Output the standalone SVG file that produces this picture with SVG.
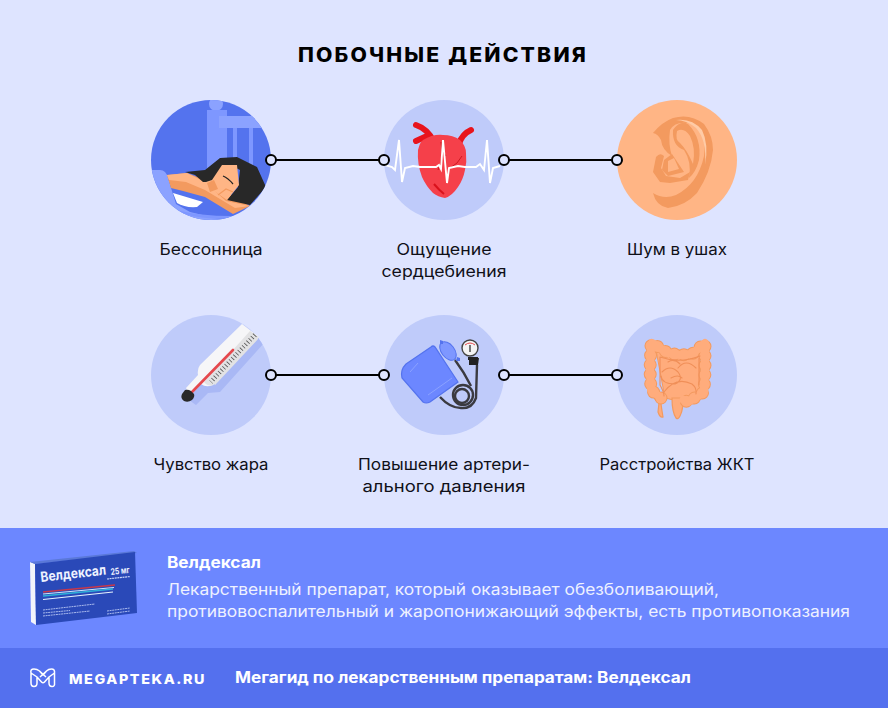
<svg xmlns="http://www.w3.org/2000/svg" width="888" height="708" viewBox="0 0 888 708">
<style>
text{font-family:"Inter","Liberation Sans",sans-serif;}
.lb{font-size:15.5px;fill:#101018;text-anchor:middle}
.disc{fill:#BFCBFA}
.ln{stroke:#000;stroke-width:2;fill:none}
.dot{fill:#DEE4FF;stroke:#000;stroke-width:2}
.g{fill:none;stroke:#F08F58;stroke-width:1.1;stroke-linecap:round}
.w{font-size:15.5px;fill:#EEF1FF}
.tube{fill:none;stroke:#3A3A40;stroke-width:2.4}
</style>
<defs><clipPath id="c1"><circle cx="211" cy="160" r="60"/></clipPath><clipPath id="c4"><circle cx="211" cy="375" r="60"/></clipPath></defs>
<rect width="888" height="708" fill="#DEE4FF"/>
<text x="443" y="62" text-anchor="middle" font-size="19.500" font-weight="800" letter-spacing="2" fill="#000" textLength="290" lengthAdjust="spacingAndGlyphs">ПОБОЧНЫЕ ДЕЙСТВИЯ</text>

<g id="connectors">
<path class="ln" d="M271 160H384M504 160H617M271 375H384M504 375H617"/>
</g>

<g id="node-insomnia">
<circle cx="211" cy="160" r="60" fill="#5473EE"/>
<g clip-path="url(#c1)">
<circle cx="216" cy="104" r="7" fill="#8BA2FF"/>
<rect x="207" y="110" width="20" height="70" fill="#7E97FF"/>
<rect x="219" y="116" width="50" height="12" fill="#8BA2FF"/>
<rect x="233" y="128" width="4" height="40" fill="#7E97FF"/>
<rect x="249" y="128" width="4" height="40" fill="#7E97FF"/>
<path d="M150 170H160Q166 170 168 178L176 204 190 212 232 222H150Z" fill="#8BA2FF"/>
<path d="M176 210Q200 216 232 216L228 219Q200 219 180 213Z" fill="#7E97FF"/>
<path d="M173 193L203 202 197 207Q185 208 177 203Z" fill="#fff"/>
<path d="M167 175L187 173 205 180 250 206 233 214 205 197 183 191 171 188Z" fill="#F39A5F"/>
<path d="M167 175L187 173 207 183 217 193 226 201 250 206 235 208 205 190 186 182 169 180Z" fill="#FFB585"/>
<path d="M185 172L205 170 220 158 237 157 257 167 266 187 250 205 227 200 238 187 240 170 230 165 222 170 212 182 203 182 195 175Z" fill="#282828"/>
<path d="M222 165L237 165 239 185 227 200 217 193 203 183 212 180 220 168Z" fill="#FFB585"/>
<path d="M207 183L214 180 218 189 210 192Z" fill="#F39A5F"/>
<path d="M223 176Q228 178 233 184" stroke="#222" stroke-width="1.2" fill="none"/>
<path d="M218 195L226 189 233 192" stroke="#F39A5F" stroke-width="1.2" fill="none"/>
</g>
</g>

<g id="node-heart">
<circle class="disc" cx="444" cy="160" r="60"/>
<path d="M416 125Q428 129 434 142M416 141L427 136M459 144Q462 134 471 130" fill="none" stroke="#E8141C" stroke-width="6" stroke-linecap="round"/>
<path d="M418 150Q420 142 423 140 433 134 443 135 453 135 460 140 466 146 466 153 467 162 465 170 463 180 458 187 452 196 445 198 438 197 433 193 426 186 422 177 417 164 418 150Z" fill="#F5404A"/>
<path d="M434 184Q439 190 444 194" stroke="#D9121C" stroke-width="2" fill="none"/>
<path d="M441 142Q444 158 438 170M442 150L446 156M462 156Q458 164 450 168" stroke="#C8141C" stroke-width=".9" fill="none"/>
<path d="M385 165L392 167 395 170 399 140 402 182 405 168 413 166 420 167H436L439 165 441 169 443 140 447 183 449 168 458 166 465 167H476L480 164 484 170 487 140 490 183 493 168 500 166" fill="none" stroke="#fff" stroke-width="1.9"/>
</g>

<g id="node-tinnitus">
<circle cx="677" cy="160" r="60" fill="#FFB585"/>
<path d="M653 133Q662 122 673 118 690 113 704 124 713 136 713 150 711 172 697 193 685 206 668 208 656 206 653 193 664 200 676 195 698 184 704 156 707 134 692 124 676 120 670 130 668 144 672 156 662 150 661 140 658 134 653 133Z" fill="#F39A5F"/>
<path d="M676 120Q692 118 702 130 709 144 705 165 707 140 696 128 686 120 676 120Z" fill="#FFCBA6"/>
<path d="M673 130Q680 120 688 124 702 138 699 160 696 172 689 178 692 162 684 150 672 146 673 130Z" fill="#F39A5F"/>
<path d="M677 131Q684 127 690 136 696 148 693 164 687 150 680 143 675 140 677 131Z" fill="#FFB585"/>
<path d="M656 157Q660 152 664 156L661 168 666 176 680 178 690 172 688 180 670 183 660 182 653 172Z" fill="#F39A5F"/>
<path d="M664 160L672 154 684 172 668 176 662 170Z" fill="#F39A5F"/>
<path d="M668 161L674 158 679 169 668 172Z" fill="#FFB585"/>
</g>

<g id="node-heat">
<circle class="disc" cx="211" cy="375" r="60"/>
<g clip-path="url(#c4)">
<path d="M186 398L196 405 208 393 220 392 264 343 259 337 200 385Z" fill="#A9B8F5"/>
</g>
<path d="M186 388L198 375Q197 369 200 365L242 324 259 337 213 385Q206 388 201 384L190 396Z" fill="#F6F6F8"/>
<path d="M250 331L259 337 213 385Q208 387 204 382Z" fill="#E2E2E4"/>
<path d="M255 335L211 382" stroke="#555" stroke-width="5" stroke-dasharray=".8 2.4" fill="none"/>
<path d="M257 338L214 384" stroke="#E2E2E4" stroke-width="3" fill="none"/>
<path d="M192 392L233 350" stroke="#E5484D" stroke-width="2.6" stroke-linecap="round" fill="none"/>
<path d="M185 390Q188 389 191 391L194 394Q195 397 192 400 188 403 184 401 180 398 182 394Z" fill="#282828"/>
</g>

<g id="node-pressure">
<circle class="disc" cx="444" cy="375" r="60"/>
<path class="tube" d="M440 397Q450 408 461 408 472 409 476 398L477 365M455 360Q464 372 471 386"/>
<circle class="tube" cx="463" cy="395" r="10"/>
<circle class="tube" cx="462" cy="396" r="7"/>
<rect x="468" y="357" width="10" height="3" fill="#222"/>
<path d="M469 359L479 358 478 365 469 365Z" fill="#222"/>
<circle cx="470" cy="348" r="8" fill="#F4F4F4" stroke="#444" stroke-width="1.4"/>
<path d="M465 345Q470 341 475 345" stroke="#E5484D" fill="none"/>
<path d="M470 352V345" stroke="#222" stroke-width="1.2"/>
<path d="M406 364L431 347Q433 345 435 347L458 382 430 402Q426 404 423 402L402 378Q400 370 406 364Z" fill="#6C87FF" stroke="#5473EE" stroke-width="1.2"/>
<path d="M418 363L410 372M452 378L428 395" stroke="#8BA2FF" fill="none"/>
<ellipse cx="448" cy="351" rx="6.500" ry="10.500" transform="rotate(-38 448 351)" fill="#7E97FF" stroke="#5473EE"/>
<path d="M440 340L443 341 443 344 440 344ZM457 357L460 358 460 361 456 361Z" fill="#5473EE"/>
</g>

<g id="node-gi">
<circle class="disc" cx="677" cy="375" r="60"/>
<path d="M656 350H700V395L682 402 665 398Z" fill="#FFAC7C" stroke="#F39A5F"/>
<path d="M652 394Q656 402 659 403L658 412Q660 418 663 417 662 411 661 404" fill="#FFAC7C" stroke="#F39A5F" stroke-width="1.2"/>
<path d="M672 398Q672 412 676 418 678 420 680 416 684 408 682 398Z" fill="#FFAC7C" stroke="#F39A5F" stroke-width="1.2"/>
<path d="M661 398L651 390 650 370 651 345 652 343 668 353 680 355 692 354 705 343 705 372 704 392 688 402 680 398" fill="none" stroke="#F39A5F" stroke-width="13" stroke-linecap="round" stroke-dasharray="0 9.500" stroke-linejoin="round"/>
<path d="M661 398L651 390 650 370 651 345 652 343 668 353 680 355 692 354 705 343 705 372 704 392 688 402 680 398" fill="none" stroke="#FFAC7C" stroke-width="11" stroke-linecap="round" stroke-dasharray="0 9.500" stroke-linejoin="round"/>
<path d="M661 398L651 390 650 370 651 345 652 343 668 353 680 355 692 354 705 343 705 372 704 392 688 402 680 398" fill="none" stroke="#FFAC7C" stroke-width="8" stroke-linejoin="round"/>
<path class="g" d="M660 357Q680 364 700 356M699 358V385M660 357V385Q664 392 664 396M662 372Q670 364 678 372 684 380 675 384 662 384 661 376M678 368Q686 358 696 368M664 392Q676 376 692 384 697 388 696 394M671 378Q678 374 682 378M668 362Q674 358 680 364"/>
</g>

<g id="labels">
<text class="lb" x="211" y="255" textLength="103" lengthAdjust="spacingAndGlyphs">Бессонница</text>
<text class="lb" x="444" y="255" textLength="95" lengthAdjust="spacingAndGlyphs">Ощущение</text>
<text class="lb" x="444" y="277" textLength="125" lengthAdjust="spacingAndGlyphs">сердцебиения</text>
<text class="lb" x="677" y="255" textLength="100" lengthAdjust="spacingAndGlyphs">Шум в ушах</text>
<text class="lb" x="211" y="470" textLength="115" lengthAdjust="spacingAndGlyphs">Чувство жара</text>
<text class="lb" x="444" y="470" textLength="172" lengthAdjust="spacingAndGlyphs">Повышение артери-</text>
<text class="lb" x="444" y="492" textLength="163" lengthAdjust="spacingAndGlyphs">ального давления</text>
<text class="lb" x="677" y="470" textLength="155" lengthAdjust="spacingAndGlyphs">Расстройства ЖКТ</text>
</g>
<g id="connector-ends">
<circle class="dot" cx="271" cy="160" r="5"/><circle class="dot" cx="384" cy="160" r="5"/><circle class="dot" cx="504" cy="160" r="5"/><circle class="dot" cx="617" cy="160" r="5"/>
<circle class="dot" cx="271" cy="375" r="5"/><circle class="dot" cx="384" cy="375" r="5"/><circle class="dot" cx="504" cy="375" r="5"/><circle class="dot" cx="617" cy="375" r="5"/>
</g>

<g id="band">
<rect y="528" width="888" height="120" fill="#6C87FF"/>
<rect y="648" width="888" height="60" fill="#5470EE"/>
</g>
<g id="product">
<path d="M30 562L35 564 36 625 31 622Z" fill="#F2F4FA"/>
<path d="M30 562L134 551 137 553 35 564Z" fill="#5A78D8"/>
<path d="M35 564L135 552 137 613 36 625Z" fill="#2A49B8"/>
<path d="M43 592L115 585" stroke="#C8384A" stroke-width="1.6" fill="none"/>
<path d="M43 594L114 587.500" stroke="#C8E4FA" stroke-width="1.2" fill="none"/>
<path d="M43 596L113 589" stroke="#2FB0D8" stroke-width="1.6" fill="none"/>
<path d="M43 599.500L113 592" stroke="#E6F2FF" stroke-width="1.2" fill="none"/>
<path d="M43 610L95 604M43 613L70 610.500M43 616L90 611M107 611L130 608M107 614L130 611" stroke="#C8D4FA" stroke-width=".8" stroke-dasharray="2 .6" fill="none"/>
<path d="M107 579L130 576.500" stroke="#C8D4FA" stroke-width="1.2" stroke-dasharray="2 .6" fill="none"/>
<text x="41" y="582" font-size="14" font-weight="700" fill="#EEF2FF" transform="rotate(-6.500 41 582)" textLength="66" lengthAdjust="spacingAndGlyphs">Велдексал</text>
<text x="111" y="575" font-size="9" font-weight="700" fill="#EEF2FF" transform="rotate(-6.500 111 575)" textLength="19" lengthAdjust="spacingAndGlyphs">25 мг</text>
</g>
<g id="caption">
<text x="167" y="568" font-size="15.500" font-weight="700" fill="#fff" textLength="94" lengthAdjust="spacingAndGlyphs">Велдексал</text>
<text class="w" x="167" y="595" textLength="552" lengthAdjust="spacingAndGlyphs">Лекарственный препарат, который оказывает обезболивающий,</text>
<text class="w" x="167" y="617" textLength="683" lengthAdjust="spacingAndGlyphs">противовоспалительный и жаропонижающий эффекты, есть противопоказания</text>
</g>
<g id="footer">
<path d="M34 669Q30 669 31 673V683Q31 686.500 34 686.500 37 686.500 37 683V677L41.500 682Q43 683.500 44.500 682L49 677V683Q49 686.500 52 686.500 55 686.500 54.500 683V673Q55 669 51.500 669 48.500 669 46.500 671L43 675 39.500 671Q37 669 34 669ZM31 673L37 677M54.500 673L49 677M39.500 671L46 677M46.500 671L40 677" fill="none" stroke="#fff" stroke-width="1.5" stroke-linejoin="round"/>
<text x="69" y="683.500" font-size="13.500" font-weight="800" letter-spacing="1.500" fill="#fff" textLength="137" lengthAdjust="spacingAndGlyphs">MEGAPTEKA.RU</text>
<text x="235" y="683" font-size="15.500" font-weight="700" fill="#fff" textLength="456" lengthAdjust="spacingAndGlyphs">Мегагид по лекарственным препаратам: Велдексал</text>
</g>
</svg>
